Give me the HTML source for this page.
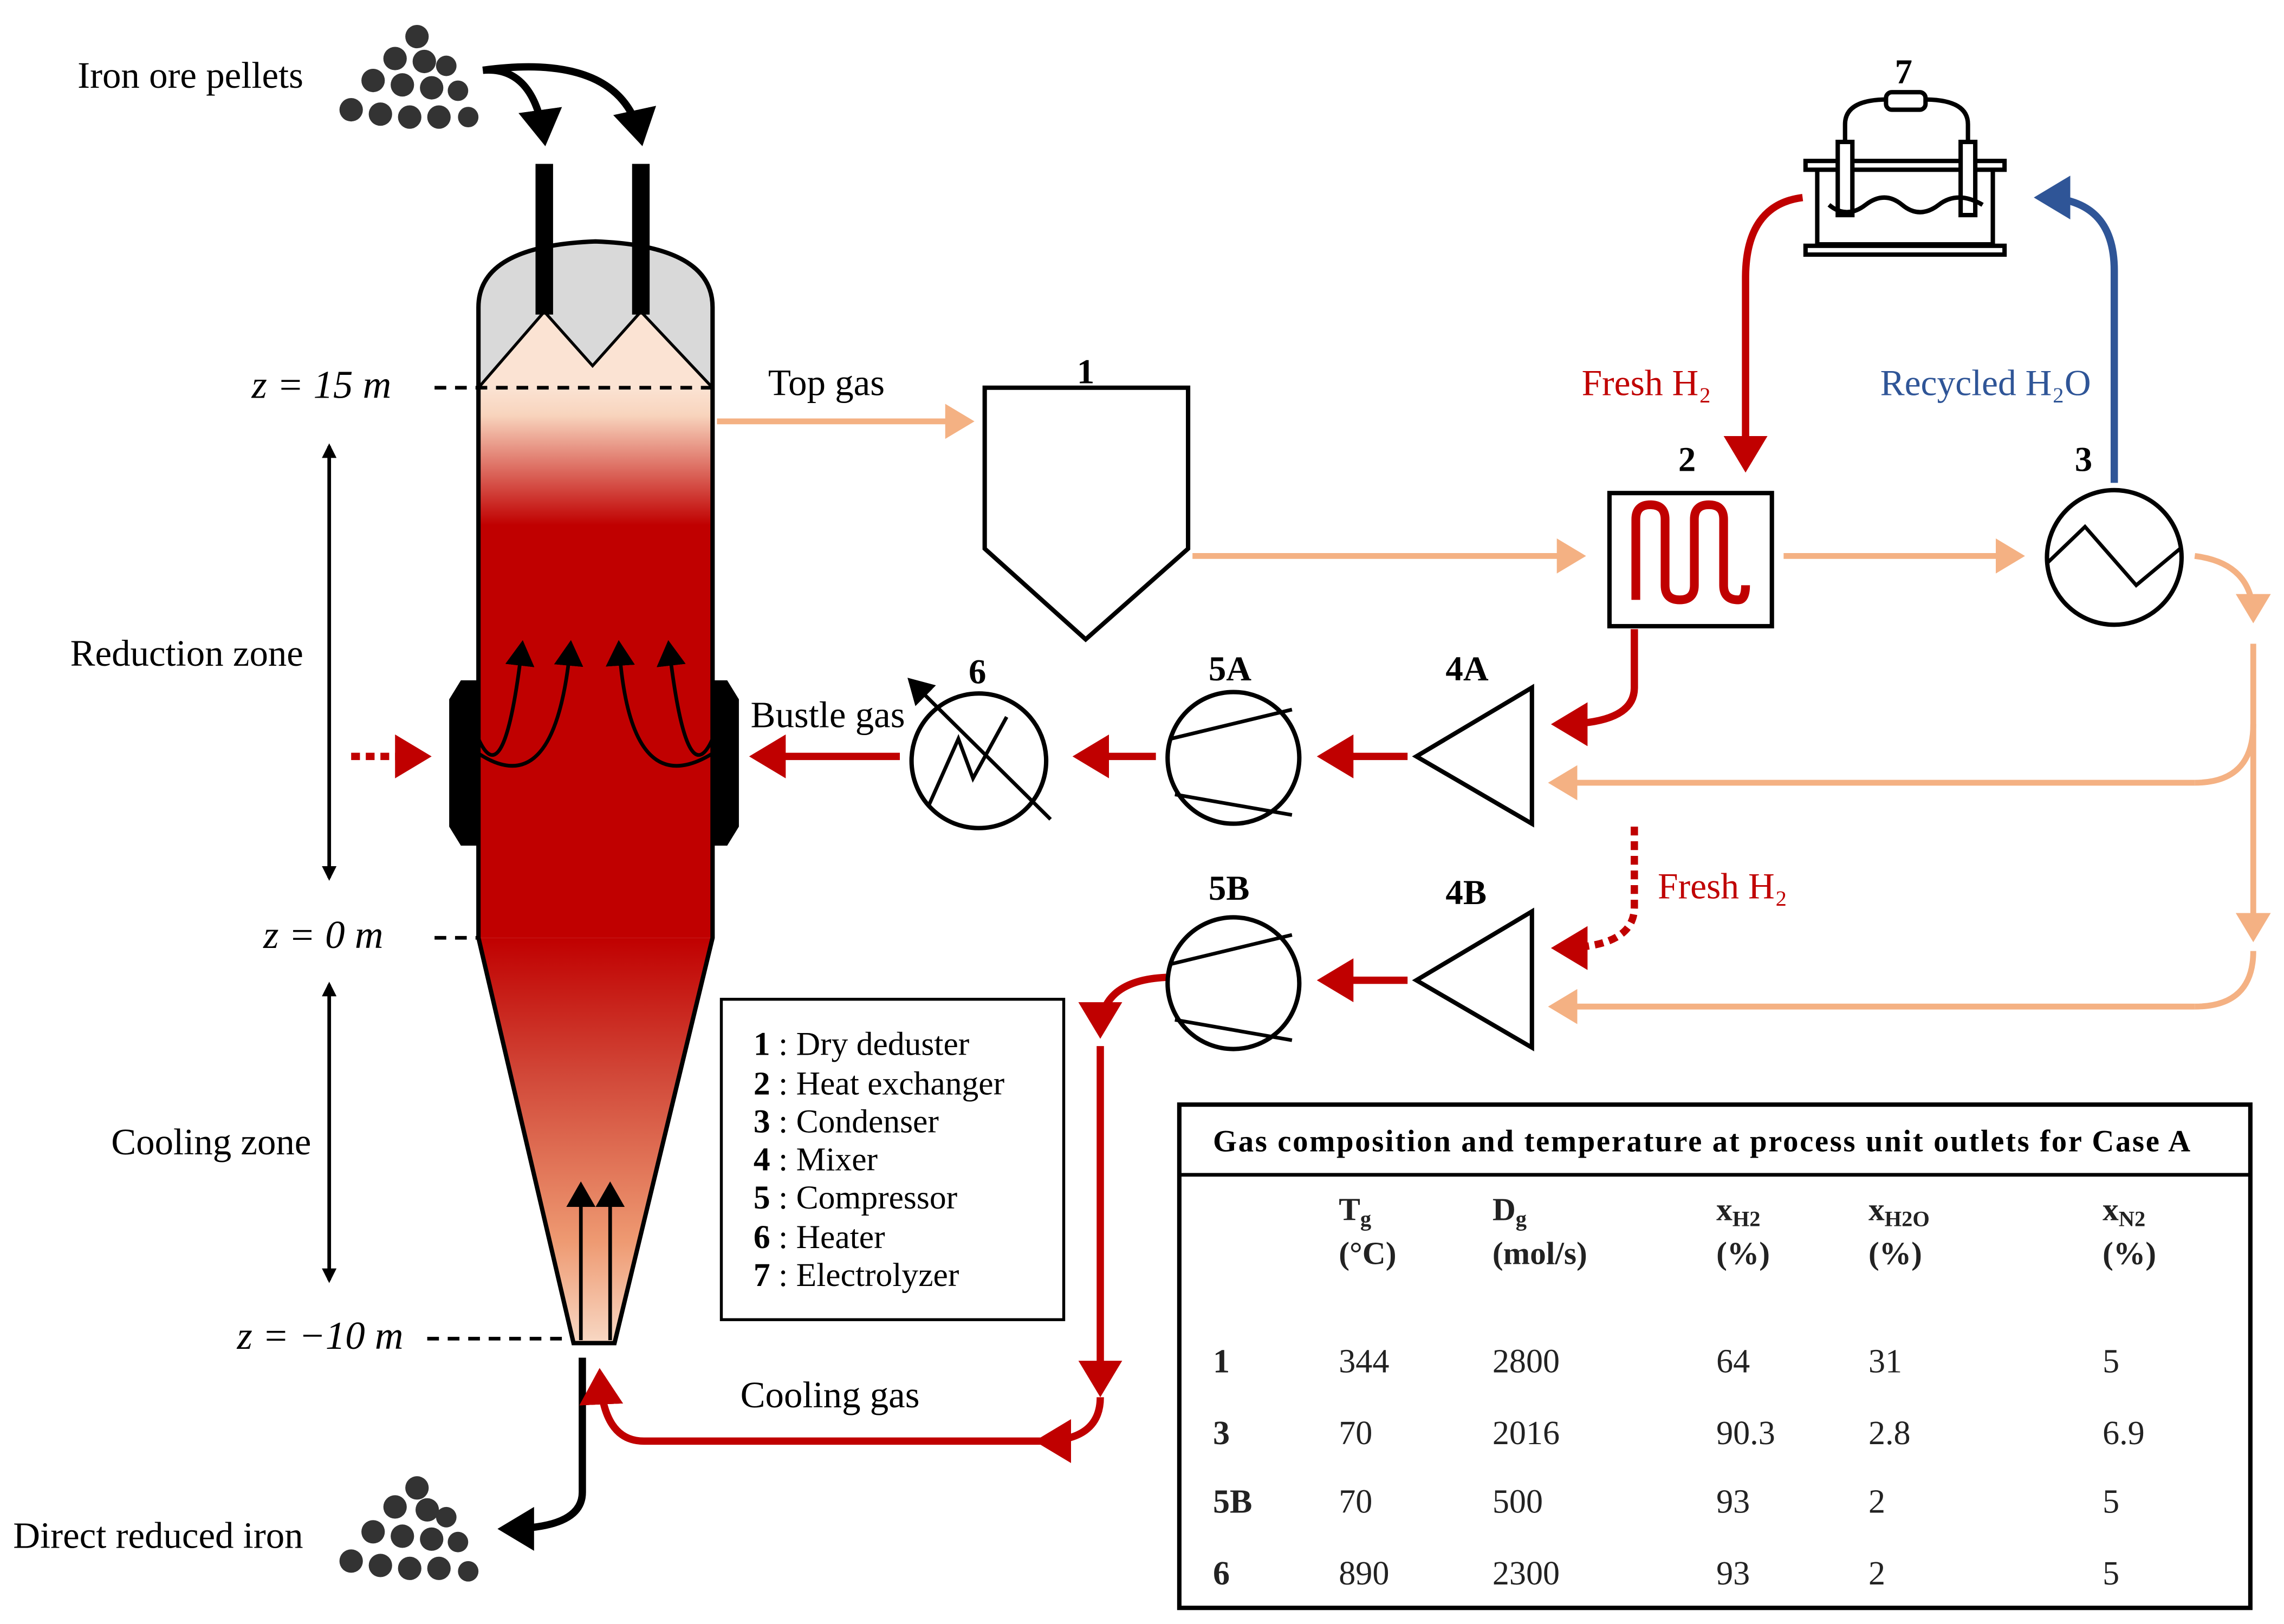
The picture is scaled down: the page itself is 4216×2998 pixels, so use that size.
<!DOCTYPE html>
<html><head><meta charset="utf-8"><style>
html,body{margin:0;padding:0;background:#fff}
svg{display:block}
text{font-family:"Liberation Serif",serif}
</style></head><body>
<svg width="4216" height="2998" viewBox="0 0 1561 1110" xmlns="http://www.w3.org/2000/svg">
<defs>
<linearGradient id="shaft" x1="0" y1="0" x2="0" y2="1">
<stop offset="0" stop-color="#fbe3d3"/><stop offset="0.05" stop-color="#f8d4bd"/><stop offset="0.25" stop-color="#c00000"/><stop offset="1" stop-color="#c00000"/></linearGradient>
<linearGradient id="cone" x1="0" y1="0" x2="0" y2="1">
<stop offset="0" stop-color="#c00000"/><stop offset="0.35" stop-color="#d24a3a"/><stop offset="0.75" stop-color="#ee9a72"/><stop offset="1" stop-color="#f8d8c4"/></linearGradient>
<marker id="aP" markerWidth="6" markerHeight="6" refX="4" refY="3" orient="auto" markerUnits="strokeWidth"><path d="M0,0 L5,3 L0,6 Z" fill="#f4b183"/></marker>
<marker id="aR" markerWidth="6" markerHeight="6" refX="4" refY="3" orient="auto" markerUnits="strokeWidth"><path d="M0,0 L5,3 L0,6 Z" fill="#c00000"/></marker>
<marker id="aB" markerWidth="6" markerHeight="6" refX="4" refY="3" orient="auto" markerUnits="strokeWidth"><path d="M0,0 L5,3 L0,6 Z" fill="#2f5597"/></marker>
<marker id="aK" markerWidth="6" markerHeight="6" refX="4" refY="3" orient="auto" markerUnits="strokeWidth"><path d="M0,0 L5,3 L0,6 Z" fill="#000"/></marker>
<marker id="aK2" markerWidth="8" markerHeight="8" refX="6" refY="4" orient="auto" markerUnits="strokeWidth"><path d="M0,0 L7,4 L0,8 Z" fill="#000"/></marker>
<marker id="aKs" markerWidth="10" markerHeight="10" refX="8" refY="5" orient="auto-start-reverse" markerUnits="userSpaceOnUse"><path d="M0,0 L10,5 L0,10 Z" fill="#000"/></marker>
</defs>

<g fill="#333">
<circle cx="285" cy="25" r="8"/><circle cx="270" cy="40" r="8"/><circle cx="290" cy="42" r="8"/><circle cx="305" cy="45" r="7"/>
<circle cx="255" cy="55" r="8"/><circle cx="275" cy="58" r="8"/><circle cx="295" cy="60" r="8"/><circle cx="313" cy="62" r="7"/>
<circle cx="240" cy="75" r="8"/><circle cx="260" cy="78" r="8"/><circle cx="280" cy="80" r="8"/><circle cx="300" cy="80" r="8"/><circle cx="320" cy="80" r="7"/>
</g>
<g fill="#333" transform="translate(0,1002)">
<circle cx="285" cy="15" r="8"/><circle cx="270" cy="28" r="8"/><circle cx="292" cy="30" r="8"/><circle cx="305" cy="35" r="7"/>
<circle cx="255" cy="45" r="8"/><circle cx="275" cy="48" r="8"/><circle cx="295" cy="50" r="8"/><circle cx="313" cy="52" r="7"/>
<circle cx="240" cy="65" r="8"/><circle cx="260" cy="68" r="8"/><circle cx="280" cy="70" r="8"/><circle cx="300" cy="70" r="8"/><circle cx="320" cy="72" r="7"/>
</g>
<text x="53" y="60" font-size="25.5">Iron ore pellets</text>
<text x="9" y="1058" font-size="25.5">Direct reduced iron</text>

<path d="M330,48 Q365,45 372,95" fill="none" stroke="#000" stroke-width="5" marker-end="url(#aK)"/>
<path d="M330,48 Q425,35 438,95" fill="none" stroke="#000" stroke-width="5" marker-end="url(#aK)"/>

<path d="M327,265 L327,210 Q327,168 407,165 Q487,168 487,210 L487,265 Z" fill="#d9d9d9"/>
<path d="M327,265 L372,213 L405,250 L438,213 L487,265 Z" fill="#fbe3d3"/>
<rect x="327" y="265" width="160" height="376" fill="url(#shaft)"/>
<path d="M327,641 L487,641 L420,918 L392,918 Z" fill="url(#cone)"/>
<path d="M327,265 L372,213 L405,250 L438,213 L487,265" fill="none" stroke="#000" stroke-width="2"/>
<path d="M327,641 L327,210 Q327,168 407,165 Q487,168 487,210 L487,641 L420,918 L392,918 L327,641" fill="none" stroke="#000" stroke-width="3"/>
<rect x="366" y="112" width="12" height="103" fill="#000"/>
<rect x="432" y="112" width="12" height="103" fill="#000"/>
<path d="M327,465 L315,465 L307,478 L307,565 L315,578 L327,578 Z" fill="#000"/>
<path d="M487,465 L497,465 L505,478 L505,565 L497,578 L487,578 Z" fill="#000"/>
<g fill="none" stroke="#000" stroke-width="2.5">
<path d="M327,505 Q345,545 357,440" marker-end="url(#aK2)"/>
<path d="M327,515 Q380,550 390,440" marker-end="url(#aK2)"/>
<path d="M487,505 Q469,545 457,440" marker-end="url(#aK2)"/>
<path d="M487,515 Q430,550 423,440" marker-end="url(#aK2)"/>
<line x1="397" y1="916" x2="397" y2="810" marker-end="url(#aK2)"/>
<line x1="417" y1="916" x2="417" y2="810" marker-end="url(#aK2)"/>
</g>
<path d="M398,928 L398,1020 Q398,1045 345,1045" fill="none" stroke="#000" stroke-width="5" marker-end="url(#aK)"/>

<g stroke="#000" stroke-width="2.5" stroke-dasharray="8,6">
<line x1="297" y1="265" x2="487" y2="265"/>
<line x1="297" y1="641" x2="327" y2="641"/>
<line x1="292" y1="915" x2="392" y2="915"/>
</g>
<g font-style="italic" font-size="27">
<text x="172" y="272">z = 15 m</text>
<text x="180" y="648">z = 0 m</text>
<text x="162" y="922">z = −10 m</text>
</g>
<line x1="225" y1="305" x2="225" y2="600" stroke="#000" stroke-width="2.5" marker-start="url(#aKs)" marker-end="url(#aKs)"/>
<line x1="225" y1="673" x2="225" y2="875" stroke="#000" stroke-width="2.5" marker-start="url(#aKs)" marker-end="url(#aKs)"/>
<text x="48" y="455" font-size="25.5">Reduction zone</text>
<text x="76" y="789" font-size="25.5">Cooling zone</text>

<g fill="none" stroke="#f4b183" stroke-width="4">
<line x1="490" y1="288" x2="662" y2="288" marker-end="url(#aP)"/>
<line x1="815" y1="380" x2="1080" y2="380" marker-end="url(#aP)"/>
<line x1="1219" y1="380" x2="1380" y2="380" marker-end="url(#aP)"/>
<path d="M1500,380 Q1540,385 1540,422" marker-end="url(#aP)"/>
<line x1="1540" y1="440" x2="1540" y2="640" marker-end="url(#aP)"/>
<path d="M1540,495 Q1540,535 1500,535"/>
<line x1="1500" y1="535" x2="1062" y2="535" marker-end="url(#aP)"/>
<path d="M1540,650 Q1540,688 1500,688"/>
<line x1="1500" y1="688" x2="1062" y2="688" marker-end="url(#aP)"/>
</g>
<text x="525" y="270" font-size="25.5">Top gas</text>

<g fill="none" stroke="#c00000" stroke-width="5">
<path d="M1117,430 L1117,470 Q1117,495 1065,495" marker-end="url(#aR)"/>
<line x1="962" y1="517" x2="905" y2="517" marker-end="url(#aR)"/>
<line x1="790" y1="517" x2="738" y2="517" marker-end="url(#aR)"/>
<line x1="615" y1="517" x2="517" y2="517" marker-end="url(#aR)"/>
<line x1="240" y1="517" x2="290" y2="517" stroke-dasharray="6,4" marker-end="url(#aR)"/>
<path d="M1117,565 L1117,620 Q1117,648 1065,648" stroke-dasharray="6,4" marker-end="url(#aR)"/>
<line x1="962" y1="670" x2="905" y2="670" marker-end="url(#aR)"/>
<path d="M797,668 Q752,670 752,705" marker-end="url(#aR)"/>
<line x1="752" y1="715" x2="752" y2="950" marker-end="url(#aR)"/>
<path d="M752,955 Q752,985 712,985" marker-end="url(#aR)"/>
<path d="M712,985 L440,985 Q412,985 410,940" marker-end="url(#aR)"/>
<path d="M1232,135 Q1193,140 1193,190 L1193,318" marker-end="url(#aR)"/>
</g>
<path d="M1445,330 L1445,185 Q1445,135 1395,135" fill="none" stroke="#2f5597" stroke-width="5" marker-end="url(#aB)"/>
<text x="1081" y="270" font-size="25" fill="#c00000">Fresh H₂</text>
<text x="1133" y="614" font-size="25" fill="#c00000">Fresh H₂</text>
<text x="1285" y="270" font-size="25" fill="#2f5597">Recycled H₂O</text>
<text x="513" y="497" font-size="25.5">Bustle gas</text>
<text x="506" y="962" font-size="25.5">Cooling gas</text>

<g fill="#fff" stroke="#000" stroke-width="3">
<path d="M673,265 L812,265 L812,375 L742,437 L673,375 Z"/>
<rect x="1100" y="337" width="111" height="91"/>
<circle cx="1445" cy="381" r="46"/>
<path d="M968,517 L1047,470 L1047,563 Z"/>
<path d="M968,670 L1047,623 L1047,716 Z"/>
<circle cx="843" cy="518" r="45"/>
<circle cx="843" cy="672" r="45"/>
<circle cx="669" cy="520" r="46"/>
</g>
<path d="M1118,410 L1118,355 Q1118,345 1128,345 Q1138,345 1138,355 L1138,400 Q1138,410 1148,410 Q1158,410 1158,400 L1158,355 Q1158,345 1168,345 Q1178,345 1178,355 L1178,400 Q1178,410 1188,410 Q1193,410 1193,400" fill="none" stroke="#c00000" stroke-width="6"/>
<path d="M1399,385 L1425,360 L1460,400 L1490,375" fill="none" stroke="#000" stroke-width="2.5"/>
<g stroke="#000" stroke-width="2.5"><line x1="800" y1="505" x2="883" y2="485"/><line x1="803" y1="543" x2="883" y2="557"/>
<line x1="800" y1="659" x2="883" y2="639"/><line x1="803" y1="697" x2="883" y2="711"/></g>
<path d="M635,550 L655,505 L665,532 L688,490" fill="none" stroke="#000" stroke-width="2.5"/>
<line x1="718" y1="560" x2="622" y2="465" stroke="#000" stroke-width="2.5" marker-end="url(#aK2)"/>
<g fill="none" stroke="#000" stroke-width="3">
<rect x="1242" y="115" width="120" height="52"/>
<rect x="1234" y="110" width="136" height="6" fill="#fff"/>
<rect x="1234" y="168" width="136" height="6" fill="#fff"/>
<rect x="1256" y="97" width="10" height="50" fill="#fff"/>
<rect x="1340" y="97" width="10" height="50" fill="#fff"/>
<path d="M1261,97 L1261,85 Q1261,68 1290,68 M1315,68 Q1345,68 1345,85 L1345,97"/>
<rect x="1289" y="63" width="27" height="12" rx="4" fill="#fff"/>
<path d="M1250,140 Q1262,150 1275,140 Q1288,130 1300,140 Q1312,150 1325,140 Q1338,130 1355,140"/>
</g>
<g font-size="24" font-weight="bold">
<text x="736" y="262">1</text><text x="1147" y="322">2</text><text x="1418" y="322">3</text>
<text x="988" y="465">4A</text><text x="988" y="618">4B</text>
<text x="826" y="465">5A</text><text x="826" y="615">5B</text>
<text x="662" y="467">6</text><text x="1295" y="57">7</text>
</g>

<rect x="493" y="683" width="234" height="219" fill="#fff" stroke="#000" stroke-width="2"/>
<g font-size="22.8">
<text x="515" y="721"><tspan font-weight="bold">1</tspan> : Dry deduster</text>
<text x="515" y="748"><tspan font-weight="bold">2</tspan> : Heat exchanger</text>
<text x="515" y="774"><tspan font-weight="bold">3</tspan> : Condenser</text>
<text x="515" y="800"><tspan font-weight="bold">4</tspan> : Mixer</text>
<text x="515" y="826"><tspan font-weight="bold">5</tspan> : Compressor</text>
<text x="515" y="853"><tspan font-weight="bold">6</tspan> : Heater</text>
<text x="515" y="879"><tspan font-weight="bold">7</tspan> : Electrolyzer</text>
</g>

<rect x="806" y="755" width="732" height="344" fill="#fff" stroke="#000" stroke-width="3"/>
<line x1="806" y1="803" x2="1538" y2="803" stroke="#000" stroke-width="2.5"/>
<text x="829" y="787" font-size="21" font-weight="bold" textLength="668" lengthAdjust="spacing">Gas composition and temperature at process unit outlets for Case A</text>
<g font-size="22" font-weight="bold" fill="#222">
<text x="915" y="834">T<tspan font-size="15" dy="4">g</tspan></text><text x="915" y="864">(°C)</text>
<text x="1020" y="834">D<tspan font-size="15" dy="4">g</tspan></text><text x="1020" y="864">(mol/s)</text>
<text x="1173" y="834">x<tspan font-size="15" dy="4">H2</tspan></text><text x="1173" y="864">(%)</text>
<text x="1277" y="834">x<tspan font-size="15" dy="4">H2O</tspan></text><text x="1277" y="864">(%)</text>
<text x="1437" y="834">x<tspan font-size="15" dy="4">N2</tspan></text><text x="1437" y="864">(%)</text>
</g>
<g font-size="23" fill="#222">
<text x="829" y="938" font-weight="bold">1</text><text x="915" y="938">344</text><text x="1020" y="938">2800</text><text x="1173" y="938">64</text><text x="1277" y="938">31</text><text x="1437" y="938">5</text>
<text x="829" y="987" font-weight="bold">3</text><text x="915" y="987">70</text><text x="1020" y="987">2016</text><text x="1173" y="987">90.3</text><text x="1277" y="987">2.8</text><text x="1437" y="987">6.9</text>
<text x="829" y="1034" font-weight="bold">5B</text><text x="915" y="1034">70</text><text x="1020" y="1034">500</text><text x="1173" y="1034">93</text><text x="1277" y="1034">2</text><text x="1437" y="1034">5</text>
<text x="829" y="1083" font-weight="bold">6</text><text x="915" y="1083">890</text><text x="1020" y="1083">2300</text><text x="1173" y="1083">93</text><text x="1277" y="1083">2</text><text x="1437" y="1083">5</text>
</g>
</svg>
</body></html>
